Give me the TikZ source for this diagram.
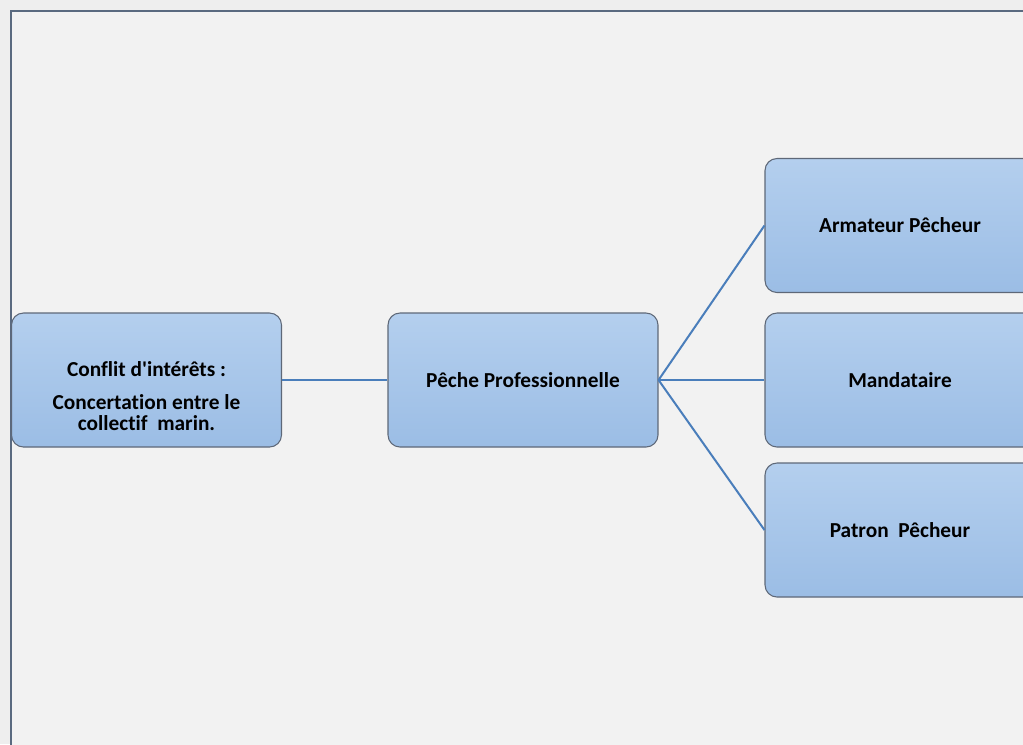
\documentclass[tikz,border=0pt]{standalone}
\usepackage{fontspec}
\newfontfamily\calfont{Carlito}[Ligatures=NoCommon]
\definecolor{bgc}{HTML}{F2F2F2}
\definecolor{outc}{HTML}{EEEEEE}
\definecolor{framec}{HTML}{5A6A80}
\definecolor{boxtop}{HTML}{B4CFEE}
\definecolor{boxbot}{HTML}{9BBDE5}
\definecolor{boxline}{HTML}{5E6878}
\definecolor{linkc}{HTML}{4A7EBB}
\tikzset{
  box/.style={draw=boxline, line width=0.8pt, rounded corners=9pt,
    top color=boxtop, bottom color=boxbot,
    minimum width=202.5pt, minimum height=100.5pt, inner sep=2pt,
    font=\calfont\fontsize{16}{16}\selectfont\bfseries, align=center, text=black},
  txt/.style={inner sep=0pt, font=\calfont\fontsize{16}{15.75}\selectfont\bfseries,
    align=center, text=black},
  link/.style={draw=linkc, line width=1.5pt}
}
\begin{document}
\begin{tikzpicture}[x=0.75pt,y=-0.75pt]
\useasboundingbox (0,0) rectangle (1023,744);
\clip (0,0) rectangle (1023,744);
\fill[outc] (0,0) rectangle (1023,744);
\fill[bgc] (11,11) rectangle (1050,760);
\draw[framec, line width=1.2pt] (1050,11) -- (11,11) -- (11,760);
\node[box] (A) at (146.5,380) {};
\node[txt] (At) at (146.5,396) {Conflit d'intérêts :\\[9pt]Concertation entre le\\collectif~ marin.};
\node[box] (B) at (523,380) {Pêche Professionnelle};
\node[box] (C) at (900,225.5) {Armateur Pêcheur};
\node[box] (D) at (900,380) {Mandataire};
\node[box] (E) at (900,530) {Patron~ Pêcheur};
\draw[link] (A.east) -- (B.west);
\draw[link] (B.east) -- (C.west);
\draw[link] (B.east) -- (D.west);
\draw[link] (B.east) -- (E.west);
\end{tikzpicture}
\end{document}
